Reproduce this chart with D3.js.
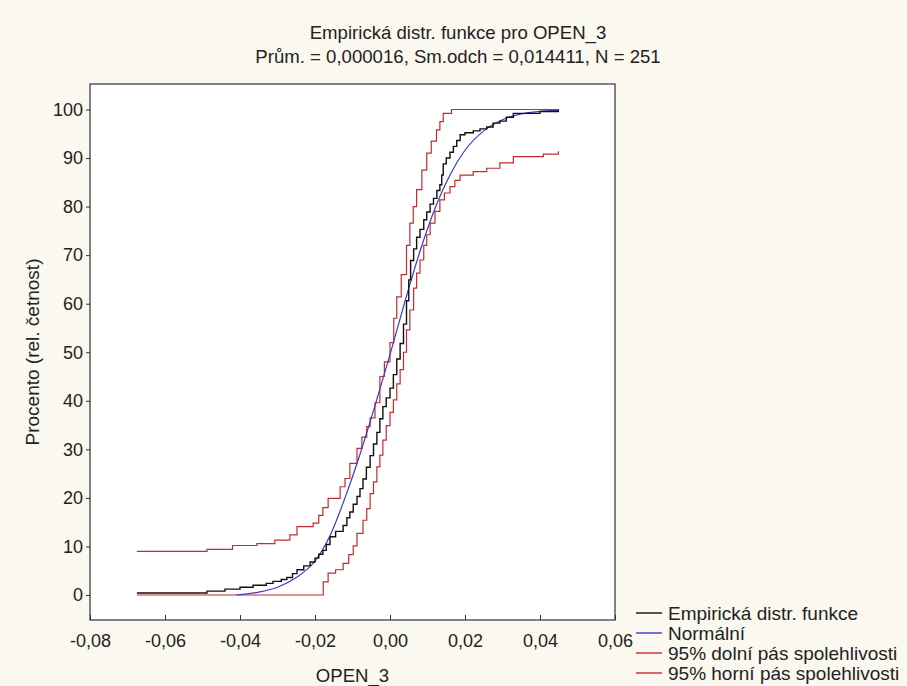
<!DOCTYPE html>
<html>
<head>
<meta charset="utf-8">
<script src="https://cdn.jsdelivr.net/npm/d3@7"></script>
<style>
  body { margin: 0; background: #fbf8ef; }
  text { font-family: "Liberation Sans", Arial, sans-serif; fill: #222; }
</style>
</head>
<body>
<script>
var empirical = [
  [-0.0675, 0.4], [-0.0488, 0.8], [-0.0440, 1.2], [-0.0400, 1.6], [-0.0365, 2.0],
  [-0.0330, 2.4], [-0.0312, 2.8], [-0.0290, 3.2], [-0.0275, 3.6], [-0.0260, 4.4],
  [-0.0248, 5.2], [-0.0230, 6.0], [-0.0213, 6.8], [-0.0200, 7.6], [-0.0190, 8.4],
  [-0.0179, 9.2], [-0.0170, 10.4], [-0.0160, 12.0], [-0.0145, 13.1], [-0.0125, 14.3],
  [-0.0115, 15.9], [-0.0107, 17.1], [-0.0098, 18.7], [-0.0088, 20.3], [-0.0080, 21.9],
  [-0.0072, 23.9], [-0.0063, 26.3], [-0.0053, 28.7], [-0.0044, 31.1], [-0.0035, 33.5],
  [-0.0027, 36.3], [-0.0019, 38.8], [-0.0010, 40.6], [0.0000, 42.6], [0.0009, 45.4],
  [0.0018, 48.6], [0.0027, 51.8], [0.0036, 55.8], [0.0044, 60.6], [0.0050, 64.9],
  [0.0055, 68.9], [0.0063, 71.3], [0.0071, 73.7], [0.0080, 75.3], [0.0090, 77.3],
  [0.0098, 78.9], [0.0107, 80.5], [0.0116, 81.7], [0.0125, 83.3], [0.0133, 84.5],
  [0.0138, 86.5], [0.0142, 88.8], [0.0150, 90.0], [0.0160, 91.2], [0.0169, 92.4],
  [0.0178, 93.6], [0.0187, 94.8], [0.0200, 95.2], [0.0222, 95.6], [0.0240, 96.0],
  [0.0258, 96.4], [0.0275, 97.2], [0.0293, 97.6], [0.0310, 98.4], [0.0329, 99.2],
  [0.0400, 99.6], [0.0449, 100.0]
];

// normal curve
var normal = [
  [-0.0410, 0.0], [-0.0350, 0.6], [-0.0300, 1.6], [-0.0250, 3.6], [-0.0200, 7.0],
  [-0.0160, 12.2], [-0.0120, 20.0], [-0.0080, 29.0], [-0.0040, 39.0], [0.0000, 49.5],
  [0.0040, 60.5], [0.0080, 70.8], [0.0120, 79.6], [0.0160, 86.5], [0.0200, 91.6],
  [0.0250, 95.6], [0.0300, 97.9], [0.0350, 99.1], [0.0400, 99.6], [0.0449, 99.8]
];

// 95% lower band
var lowerBand = [
  [-0.0675, 0.0], [-0.0178, 2.7], [-0.0165, 4.5], [-0.0145, 5.2], [-0.0125, 6.5],
  [-0.0110, 8.3], [-0.0098, 10.1], [-0.0088, 12.7], [-0.0072, 15.4], [-0.0062, 17.8],
  [-0.0053, 20.9], [-0.0044, 23.3], [-0.0035, 26.4], [-0.0027, 28.8], [-0.0019, 31.9],
  [-0.0010, 34.9], [0.0000, 37.6], [0.0009, 40.2], [0.0018, 43.5], [0.0027, 46.4],
  [0.0036, 50.0], [0.0044, 54.6], [0.0053, 58.7], [0.0063, 63.2], [0.0071, 66.3],
  [0.0080, 69.0], [0.0090, 72.0], [0.0098, 74.2], [0.0107, 76.6], [0.0120, 79.0],
  [0.0133, 81.4], [0.0145, 82.8], [0.0160, 84.1], [0.0173, 85.4], [0.0187, 86.5],
  [0.0222, 87.2], [0.0258, 87.9], [0.0293, 89.0], [0.0329, 90.3], [0.0409, 90.8],
  [0.0449, 91.4]
];

// 95% upper band
var upperBand = [
  [-0.0675, 9.0], [-0.0488, 9.4], [-0.0420, 10.2], [-0.0355, 10.6], [-0.0307, 11.3],
  [-0.0267, 12.4], [-0.0248, 14.1], [-0.0205, 14.8], [-0.0190, 16.4], [-0.0179, 18.0],
  [-0.0165, 19.9], [-0.0133, 22.3], [-0.0120, 24.0], [-0.0107, 27.1], [-0.0088, 30.2],
  [-0.0075, 32.5], [-0.0062, 34.7], [-0.0053, 36.5], [-0.0040, 39.6], [-0.0027, 45.0],
  [-0.0015, 48.0], [0.0000, 52.0], [0.0010, 57.0], [0.0018, 61.4], [0.0030, 66.0],
  [0.0044, 72.0], [0.0053, 76.6], [0.0062, 80.0], [0.0071, 83.5], [0.0085, 87.5],
  [0.0098, 91.0], [0.0110, 93.5], [0.0124, 95.8], [0.0133, 97.5], [0.0142, 99.2],
  [0.0164, 100.0], [0.0449, 100.0]
];

var xTicks = [-0.08, -0.06, -0.04, -0.02, 0, 0.02, 0.04, 0.06];
var yTicks = [0, 10, 20, 30, 40, 50, 60, 70, 80, 90, 100];

var titleLines = ["Empirická distr. funkce pro OPEN_3",
                  "Prům. = 0,000016, Sm.odch = 0,014411, N = 251"];
var legendNames = ["Empirická distr. funkce", "Normální",
                   "95% dolní pás spolehlivosti", "95% horní pás spolehlivosti"];
var legendColors = ["#111111", "#3a3ac4", "#c42a32", "#c42a32"];

var W = 907, H = 686;
var plot = {left: 90, right: 615, top: 84, bottom: 620};

var svg = d3.select("body").append("svg")
    .attr("width", W)
    .attr("height", H);

svg.append("rect")
    .attr("width", W).attr("height", H)
    .attr("fill", "#fbf8ef");

var x = d3.scaleLinear().domain([-0.08, 0.06]).range([plot.left, plot.right]);
var y = d3.scaleLinear().domain([-5.15, 105.25]).range([plot.bottom, plot.top]);

svg.append("rect")
    .attr("x", plot.left).attr("y", plot.top)
    .attr("width", plot.right - plot.left)
    .attr("height", plot.bottom - plot.top)
    .attr("fill", "#ffffff");

var fmt = function (d) { return d3.format(".2f")(d).replace(".", ",").replace("−", "-"); };

// x axis, ticks pointing inside
var gx = svg.append("g")
    .attr("transform", "translate(0," + plot.bottom + ")")
    .call(d3.axisBottom(x).tickValues(xTicks).tickSize(-5).tickPadding(14).tickFormat(fmt));

// y axis, ticks outside
var gy = svg.append("g")
    .attr("transform", "translate(" + plot.left + ",0)")
    .call(d3.axisLeft(y).tickValues(yTicks).tickSize(4).tickPadding(3));

[gx, gy].forEach(function (g) {
    g.select(".domain").remove();
    g.selectAll("line").attr("stroke", "#333");
    g.selectAll("text").style("font-size", "18px")
        .style("font-family", "'Liberation Sans', Arial, sans-serif").attr("fill", "#222");
});

var line = d3.line()
    .x(function (d) { return x(d[0]); })
    .y(function (d) { return y(d[1]); });

var step = d3.line()
    .curve(d3.curveStepAfter)
    .x(function (d) { return x(d[0]); })
    .y(function (d) { return y(d[1]); });

svg.append("path").datum(lowerBand)
    .attr("d", step).attr("fill", "none")
    .attr("stroke", legendColors[2]).attr("stroke-width", 1.2);

svg.append("path").datum(upperBand)
    .attr("d", step).attr("fill", "none")
    .attr("stroke", legendColors[3]).attr("stroke-width", 1.2);

svg.append("path").datum(normal)
    .attr("d", line.curve(d3.curveMonotoneX)).attr("fill", "none")
    .attr("stroke", legendColors[1]).attr("stroke-width", 1.2);

svg.append("path").datum(empirical)
    .attr("d", step).attr("fill", "none")
    .attr("stroke", legendColors[0]).attr("stroke-width", 1.4);

// frame
svg.append("rect")
    .attr("x", plot.left).attr("y", plot.top)
    .attr("width", plot.right - plot.left)
    .attr("height", plot.bottom - plot.top)
    .attr("fill", "none")
    .attr("stroke", "#333")
    .attr("stroke-width", 1.2);

// titles
svg.selectAll(".title")
    .data(titleLines)
    .enter().append("text")
    .attr("x", 458)
    .attr("y", function (d, i) { return 39 + i * 24; })
    .attr("text-anchor", "middle")
    .style("font-size", "18.6px")
    .text(function (d) { return d; });

svg.append("text")
    .attr("x", (plot.left + plot.right) / 2)
    .attr("y", 682)
    .attr("text-anchor", "middle")
    .style("font-size", "18.6px")
    .text("OPEN_3");

svg.append("text")
    .attr("transform", "translate(39," + (plot.top + plot.bottom) / 2 + ") rotate(-90)")
    .attr("text-anchor", "middle")
    .style("font-size", "19px")
    .text("Procento (rel. četnost)");

// legend
var leg = svg.selectAll(".leg")
    .data(legendNames)
    .enter().append("g")
    .attr("transform", function (d, i) { return "translate(636," + (613 + i * 20) + ")"; });

leg.append("line")
    .attr("x1", 0).attr("x2", 26)
    .attr("stroke", function (d, i) { return legendColors[i]; })
    .attr("stroke-width", 1.4);

leg.append("text")
    .attr("x", 32).attr("y", 6.5)
    .style("font-size", "19px")
    .text(function (d) { return d; });
</script>
</body>
</html>
